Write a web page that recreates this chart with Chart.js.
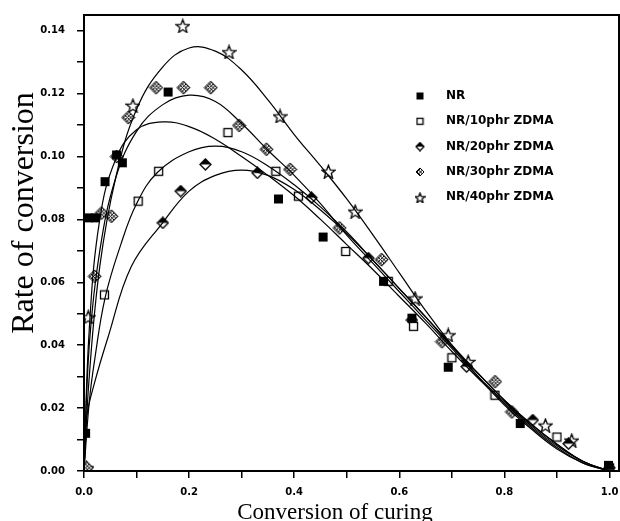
<!DOCTYPE html>
<html>
<head>
<meta charset="utf-8">
<script src="https://cdn.jsdelivr.net/npm/chart.js@4.4.1/dist/chart.umd.min.js"></script>
<style>
  html, body { margin: 0; padding: 0; background: #fff; }
  #wrap { width: 620px; height: 521px; }
</style>
</head>
<body>
<div id="wrap"><canvas id="curingChart"></canvas></div>
<script>
// measured points [conversion, rate]
const nrPts = [[0.003,0.012],[0.008,0.0805],[0.022,0.0805],[0.040,0.092],[0.062,0.1005],[0.073,0.098],
  [0.160,0.1205],[0.370,0.0865],[0.455,0.0744],[0.570,0.0603],[0.624,0.0486],[0.693,0.033],[0.830,0.0151],[0.998,0.0018]];
const p10Pts = [[0.039,0.056],[0.103,0.0858],[0.142,0.0953],[0.274,0.1076],[0.365,0.0953],[0.408,0.0874],
  [0.498,0.0698],[0.579,0.0603],[0.627,0.046],[0.700,0.036],[0.782,0.0241],[0.900,0.0108],[1.0,0.001]];
const p20Pts = [[0.150,0.0789],[0.184,0.089],[0.231,0.0975],[0.330,0.0948],[0.433,0.0869],[0.541,0.0677],
  [0.624,0.048],[0.728,0.0332],[0.854,0.0162],[0.922,0.0087],[1.0,0.001]];
const p30Pts = [[0.005,0.001],[0.020,0.0619],[0.033,0.082],[0.052,0.081],[0.062,0.100],[0.084,0.1124],[0.137,0.1219],
  [0.189,0.1219],[0.241,0.1219],[0.295,0.1099],[0.347,0.1023],[0.392,0.0959],[0.486,0.0773],[0.566,0.0672],
  [0.681,0.0411],[0.782,0.0284],[0.814,0.0188]];
const p40Pts = [[0.005,0.001],[0.008,0.049],[0.093,0.1163],[0.188,0.1416],[0.276,0.1333],[0.373,0.1129],
  [0.465,0.0953],[0.516,0.0826],[0.630,0.055],[0.693,0.0433],[0.731,0.0348],[0.878,0.0146],[0.928,0.0098]];

// fitted curves
const nrFit = [[0,0],[0.01,0.045],[0.03,0.08],[0.06,0.099],[0.1,0.1085],[0.15,0.111],[0.2,0.1095],[0.25,0.1055],
  [0.3,0.1],[0.35,0.094],[0.4,0.0875],[0.45,0.08],[0.5,0.072],[0.55,0.064],[0.6,0.0555],[0.65,0.047],[0.7,0.038],
  [0.75,0.0295],[0.8,0.0215],[0.85,0.014],[0.9,0.0075],[0.95,0.0025],[1.0,0]];
const p10Fit = [[0,0],[0.01,0.022],[0.02,0.035],[0.04,0.055],[0.07,0.072],[0.1,0.085],[0.14,0.095],[0.2,0.1015],
  [0.25,0.1033],[0.3,0.1015],[0.35,0.097],[0.4,0.091],[0.45,0.084],[0.5,0.076],[0.55,0.067],[0.6,0.058],[0.65,0.049],
  [0.7,0.04],[0.75,0.031],[0.8,0.0225],[0.85,0.015],[0.9,0.0085],[0.95,0.003],[1.0,0]];
const p20Fit = [[0,0],[0.005,0.017],[0.02,0.028],[0.046,0.0427],[0.09,0.065],[0.15,0.079],[0.2,0.089],[0.25,0.094],
  [0.3,0.0957],[0.35,0.094],[0.4,0.0895],[0.45,0.083],[0.5,0.0755],[0.55,0.067],[0.6,0.058],[0.65,0.049],[0.7,0.0395],
  [0.75,0.031],[0.8,0.0225],[0.85,0.015],[0.9,0.0085],[0.95,0.003],[1.0,0]];
const p30Fit = [[0,0],[0.01,0.04],[0.03,0.07],[0.06,0.093],[0.1,0.108],[0.15,0.1165],[0.2,0.1195],[0.25,0.1175],
  [0.3,0.1105],[0.35,0.102],[0.4,0.094],[0.45,0.085],[0.5,0.075],[0.55,0.066],[0.6,0.057],[0.65,0.048],[0.7,0.039],
  [0.75,0.03],[0.8,0.022],[0.85,0.0145],[0.9,0.008],[0.95,0.003],[1.0,0]];
const p40Fit = [[0,0],[0.01,0.03],[0.03,0.065],[0.06,0.093],[0.1,0.115],[0.15,0.1285],[0.2,0.1345],[0.25,0.1335],
  [0.3,0.1275],[0.35,0.118],[0.4,0.107],[0.45,0.097],[0.5,0.0865],[0.55,0.075],[0.6,0.063],[0.65,0.051],[0.7,0.04],
  [0.75,0.03],[0.8,0.021],[0.85,0.0135],[0.9,0.007],[0.95,0.0025],[1.0,0]];

const seriesNames = ['NR', 'NR/10phr ZDMA', 'NR/20phr ZDMA', 'NR/30phr ZDMA', 'NR/40phr ZDMA'];
const xTicks = [0,0.1,0.2,0.3,0.4,0.5,0.6,0.7,0.8,0.9,1.0];
const yTicks = [0,0.01,0.02,0.03,0.04,0.05,0.06,0.07,0.08,0.09,0.1,0.11,0.12,0.13,0.14];

// marker images
function marker(kind, s) {
  const c = document.createElement('canvas');
  c.width = s; c.height = s;
  const g = c.getContext('2d');
  const m = s / 2;
  g.strokeStyle = '#000'; g.fillStyle = '#000'; g.lineWidth = 1.3;
  if (kind === 'fill') {
    g.fillRect(1, 1, s - 2, s - 2);
  } else if (kind === 'open') {
    g.fillStyle = '#fff'; g.fillRect(1.5, 1.5, s - 3, s - 3);
    g.strokeRect(1.5, 1.5, s - 3, s - 3);
  } else if (kind === 'half') {
    g.beginPath(); g.moveTo(m, 1); g.lineTo(s - 1, m); g.lineTo(m, s - 1); g.lineTo(1, m); g.closePath();
    g.fillStyle = '#fff'; g.fill(); g.stroke();
    g.beginPath(); g.moveTo(m, 1); g.lineTo(s - 1, m); g.lineTo(1, m); g.closePath();
    g.fillStyle = '#000'; g.fill();
  } else if (kind === 'hatch') {
    g.lineWidth = 1;
    g.beginPath(); g.moveTo(m, 1); g.lineTo(s - 1, m); g.lineTo(m, s - 1); g.lineTo(1, m); g.closePath();
    g.fillStyle = '#fff'; g.fill(); g.stroke();
    g.save(); g.clip();
    for (let k = -s; k < 2 * s; k += 3.5) {
      g.beginPath(); g.moveTo(k, 0); g.lineTo(k + s, s); g.stroke();
      g.beginPath(); g.moveTo(k + s, 0); g.lineTo(k, s); g.stroke();
    }
    g.restore();
  } else if (kind === 'star') {
    g.beginPath();
    for (let i = 0; i < 10; i++) {
      const r = i % 2 ? s * 0.2 : s * 0.47;
      const a = -Math.PI / 2 + i * Math.PI / 5;
      const px = m + r * Math.cos(a), py = m + 1 + r * Math.sin(a);
      i ? g.lineTo(px, py) : g.moveTo(px, py);
    }
    g.closePath(); g.fillStyle = '#fff'; g.fill(); g.stroke();
  }
  return c;
}
const plotMarks = [marker('fill', 11), marker('open', 11), marker('half', 13), marker('hatch', 15), marker('star', 15)];
const legendMarks = [marker('fill', 9), marker('open', 9), marker('half', 10), marker('hatch', 10), marker('star', 11)];

const toXY = arr => arr.map(p => ({ x: p[0], y: p[1] }));
const fits = [nrFit, p10Fit, p20Fit, p30Fit, p40Fit];
const pts = [nrPts, p10Pts, p20Pts, p30Pts, p40Pts];

const datasets = [];
fits.forEach(f => datasets.push({
  data: toXY(f), showLine: true, borderColor: '#000', borderWidth: 1.2,
  pointRadius: 0, tension: 0.4, fill: false
}));
pts.forEach((p, i) => datasets.push({
  label: seriesNames[i], data: toXY(p), showLine: false,
  pointStyle: plotMarks[i], pointRadius: 6
}));

// box frame, legend inside plot, axis titles
const framePlugin = {
  id: 'frame',
  afterDraw(chart) {
    const { ctx, chartArea: a } = chart;
    ctx.save();
    ctx.strokeStyle = '#000'; ctx.lineWidth = 2;
    ctx.strokeRect(a.left, a.top, a.right - a.left, a.bottom - a.top);
    ctx.font = 'bold 12px "DejaVu Sans"';
    ctx.fillStyle = '#000'; ctx.textBaseline = 'middle';
    seriesNames.forEach((name, i) => {
      const y = 96 + i * 25.3;
      const im = legendMarks[i];
      ctx.drawImage(im, 420 - im.width / 2, y - im.height / 2);
      ctx.fillText(name, 446, y);
    });
    ctx.textAlign = 'center'; ctx.textBaseline = 'alphabetic';
    ctx.font = '23px "Liberation Serif"';
    ctx.fillText('Conversion of curing', 335, 519);
    ctx.translate(33, 213);
    ctx.rotate(-Math.PI / 2);
    ctx.font = '32px "Liberation Serif"';
    ctx.fillText('Rate of conversion', 0, 0);
    ctx.restore();
  }
};

new Chart(document.getElementById('curingChart'), {
  type: 'scatter',
  data: { datasets },
  options: {
    responsive: true,
    maintainAspectRatio: false,
    animation: false,
    layout: { autoPadding: false, padding: { top: 15, right: 1 } },
    plugins: { legend: { display: false }, tooltip: { enabled: false } },
    scales: {
      x: {
        type: 'linear', min: 0, max: 1.018,
        afterBuildTicks: s => { s.ticks = xTicks.map(v => ({ value: v })); },
        afterFit: s => { s.height = 50; s.paddingLeft = 0; s.paddingRight = 0; },
        ticks: {
          autoSkip: false, maxRotation: 0, padding: 8, color: '#000',
          font: { family: 'DejaVu Sans', size: 10, weight: 'bold' },
          callback: v => (Math.round(v * 10) % 2 === 0 ? v.toFixed(1) : '')
        },
        grid: { drawOnChartArea: false, tickLength: 7, color: '#000', lineWidth: 1.5 },
        border: { color: '#000', width: 2 }
      },
      y: {
        type: 'linear', min: 0, max: 0.145,
        afterBuildTicks: s => { s.ticks = yTicks.map(v => ({ value: v })); },
        afterFit: s => { s.width = 84; s.paddingTop = 0; s.paddingBottom = 0; },
        ticks: {
          padding: 12, color: '#000',
          font: { family: 'DejaVu Sans', size: 10, weight: 'bold' },
          callback: v => (Math.round(v * 100) % 2 === 0 ? v.toFixed(2) : '')
        },
        grid: { drawOnChartArea: false, tickLength: 7, color: '#000', lineWidth: 1.5 },
        border: { color: '#000', width: 2 }
      }
    }
  },
  plugins: [framePlugin]
});
</script>
</body>
</html>
